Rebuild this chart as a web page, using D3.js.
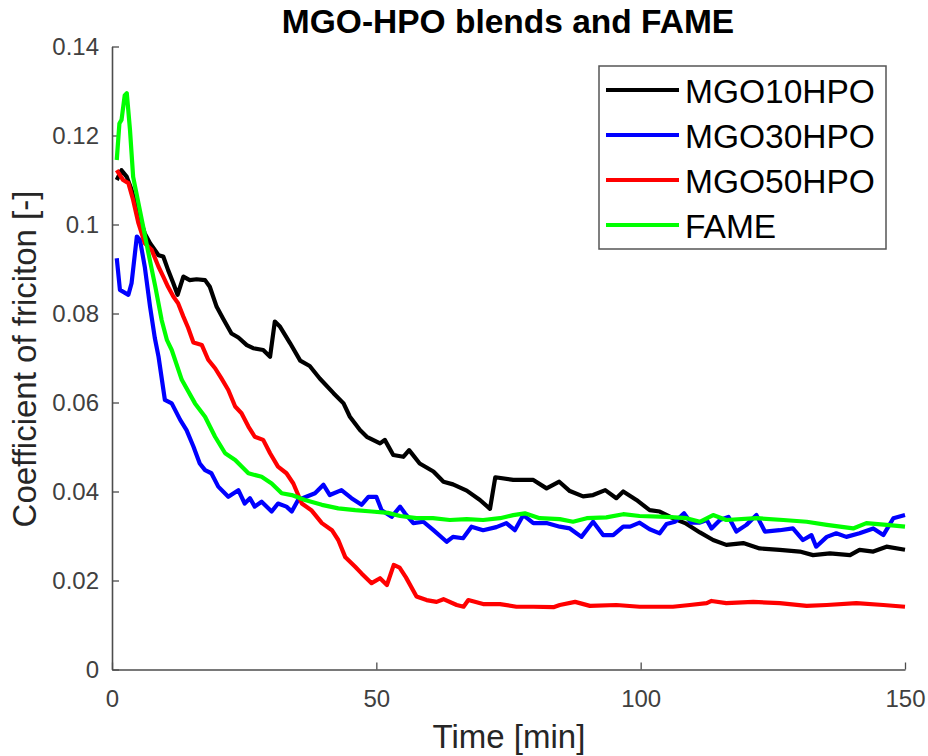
<!DOCTYPE html>
<html>
<head>
<meta charset="utf-8">
<script src="https://cdn.jsdelivr.net/npm/d3@7"></script>
<style>
  body { margin: 0; background: #fff; }
  text { font-family: "Liberation Sans", Arial, sans-serif; }
</style>
</head>
<body>
<div id="chart"></div>
<script>
// series: [time (min), coefficient of friction]
const mgo10 = [[0.9,0.110],[1.8,0.1122],[2.8,0.1107],[3.7,0.1078],[5.0,0.1025],[6.2,0.098],[7.2,0.0958],[8.8,0.0931],[9.7,0.0928],[10.6,0.0898],[11.6,0.0868],[12.4,0.0842],[13.5,0.0883],[14.7,0.0875],[16.0,0.0877],[17.6,0.0875],[18.5,0.086],[19.8,0.0815],[21.0,0.0789],[22.6,0.0755],[23.9,0.0746],[25.5,0.0729],[26.7,0.0722],[28.6,0.0718],[29.9,0.0703],[30.8,0.0782],[31.8,0.077],[33.7,0.0733],[35.6,0.0694],[37.4,0.0682],[39.3,0.0654],[41.9,0.0621],[43.8,0.0598],[45.0,0.0568],[46.9,0.0538],[48.2,0.0523],[50.7,0.0508],[51.6,0.0516],[53.2,0.0482],[55.1,0.0478],[56.2,0.0493],[58.2,0.0463],[60.8,0.0445],[62.7,0.0422],[64.5,0.0416],[67.1,0.0402],[69.6,0.0381],[71.5,0.0361],[72.5,0.0432],[75.9,0.0426],[79.7,0.0426],[82.2,0.0407],[84.6,0.0422],[86.6,0.0401],[89.1,0.0389],[91.0,0.0392],[93.3,0.0403],[95.4,0.0385],[96.7,0.04],[99.2,0.0381],[101.7,0.0358],[103.6,0.0355],[106.1,0.034],[108.4,0.0329],[111.2,0.0308],[113.7,0.0291],[116.2,0.028],[119.4,0.0284],[122.5,0.0272],[126.3,0.0269],[130.1,0.0265],[132.6,0.0257],[135.8,0.0261],[139.6,0.0257],[141.4,0.0269],[144.0,0.0265],[146.5,0.0276],[150,0.0269]];

const mgo30 = [[0.9,0.0924],[1.5,0.0853],[3.1,0.0842],[3.7,0.0868],[4.7,0.0973],[5.3,0.0965],[6.2,0.0905],[7.2,0.0815],[8.1,0.0745],[8.8,0.0703],[10.0,0.0606],[11.3,0.0598],[12.9,0.0561],[14.1,0.0538],[15.4,0.0501],[16.6,0.0463],[17.6,0.0448],[18.8,0.0441],[20.1,0.0411],[22.0,0.0388],[23.9,0.0403],[25.1,0.0373],[26.1,0.0385],[27.0,0.0366],[28.3,0.0377],[30.2,0.0355],[31.4,0.0373],[33.0,0.0366],[34.0,0.0355],[35.2,0.0381],[38.4,0.0396],[40.0,0.0415],[41.2,0.0392],[43.4,0.0403],[45.3,0.0385],[47.2,0.037],[48.5,0.0388],[50.0,0.0388],[51.0,0.0358],[52.9,0.0343],[54.5,0.0366],[55.4,0.0351],[57.0,0.0329],[58.9,0.0332],[60.8,0.0313],[63.3,0.0287],[64.5,0.0298],[66.4,0.0295],[68.0,0.0321],[70.2,0.0313],[72.7,0.032],[74.6,0.0329],[76.2,0.0313],[77.8,0.0347],[79.7,0.0329],[82.2,0.0329],[84.7,0.0321],[86.6,0.0317],[88.8,0.0298],[91.0,0.0332],[92.9,0.0302],[94.8,0.0302],[96.7,0.0321],[98.0,0.0321],[99.8,0.033],[101.7,0.0315],[103.6,0.0306],[104.9,0.0327],[106.5,0.0332],[108.2,0.0351],[109.5,0.033],[111.2,0.033],[112.5,0.0336],[113.4,0.0317],[115.0,0.0336],[116.6,0.0343],[118.1,0.031],[120.0,0.0325],[121.9,0.0347],[123.5,0.031],[126.3,0.0313],[128.8,0.0317],[130.7,0.0291],[132.3,0.0302],[133.2,0.0276],[135.2,0.0298],[137.0,0.0306],[138.9,0.0298],[141.4,0.0306],[144.0,0.0317],[145.9,0.0302],[147.8,0.034],[150,0.0347]];

const mgo50 = [[0.9,0.1122],[2.1,0.110],[3.1,0.1093],[4.0,0.1055],[5.0,0.1003],[6.2,0.0958],[7.5,0.0943],[8.8,0.0905],[9.7,0.0883],[10.6,0.086],[11.6,0.0838],[12.5,0.0823],[13.5,0.0793],[14.4,0.0768],[15.4,0.0735],[17.0,0.0729],[18.2,0.0696],[19.5,0.0677],[20.7,0.0654],[22.0,0.0628],[23.3,0.0591],[24.5,0.0576],[25.8,0.0546],[27.0,0.0523],[28.6,0.0516],[29.9,0.0486],[31.4,0.0456],[33.0,0.0441],[34.3,0.0418],[35.9,0.0373],[37.7,0.0358],[39.7,0.0329],[41.6,0.0313],[42.8,0.0291],[44.1,0.0253],[46.0,0.0231],[47.2,0.0216],[49.1,0.0194],[50.7,0.0205],[52.0,0.019],[53.3,0.0235],[54.4,0.0229],[55.6,0.0207],[57.6,0.0164],[59.5,0.0156],[61.4,0.0152],[62.7,0.0158],[65.2,0.0145],[66.5,0.0141],[67.4,0.0156],[70.2,0.0147],[73.4,0.0147],[76.5,0.0141],[79.7,0.0141],[83.5,0.014],[84.7,0.0145],[87.6,0.0152],[90.4,0.0143],[95.4,0.0145],[99.8,0.0141],[106.1,0.0141],[109.3,0.0145],[112.5,0.0149],[113.4,0.0154],[116.2,0.0149],[121.3,0.0152],[126.3,0.0149],[131.4,0.0143],[135.2,0.0145],[140.8,0.0149],[145.9,0.0145],[150,0.0141]];

const fame = [[0.9,0.1145],[1.4,0.1227],[1.8,0.1235],[2.4,0.129],[2.8,0.1295],[3.4,0.1213],[4.0,0.1107],[5.0,0.1048],[5.9,0.0995],[6.9,0.0935],[8.2,0.086],[9.4,0.0785],[10.4,0.074],[11.3,0.0718],[13.2,0.0651],[15.7,0.0598],[17.6,0.0568],[19.5,0.0523],[21.4,0.0486],[23.3,0.0471],[25.8,0.0441],[28.3,0.0433],[30.2,0.0418],[32.1,0.0396],[34.0,0.0392],[36.5,0.0381],[39.7,0.037],[42.8,0.0362],[46.0,0.0358],[49.1,0.0355],[52.2,0.0352],[54.5,0.0345],[57.6,0.034],[60.7,0.034],[63.9,0.0336],[67.1,0.0338],[70.2,0.0336],[73.4,0.034],[75.9,0.0347],[78.1,0.0351],[80.9,0.034],[84.7,0.0338],[87.2,0.0332],[89.8,0.034],[93.5,0.0342],[96.7,0.0349],[99.8,0.0345],[104.9,0.0343],[108.7,0.034],[111.2,0.0332],[113.7,0.0347],[116.2,0.0336],[121.9,0.034],[127.0,0.0336],[131.4,0.0332],[135.2,0.0325],[140.2,0.0317],[142.7,0.0329],[146.5,0.0325],[150,0.0321]];

const seriesNames = ["MGO10HPO", "MGO30HPO", "MGO50HPO", "FAME"];
const seriesColors = ["#000000", "#0000ff", "#ff0000", "#00ff00"];
const xTicks = [0, 50, 100, 150];
const yTicks = [0, 0.02, 0.04, 0.06, 0.08, 0.1, 0.12, 0.14];

const allSeries = [mgo10, mgo30, mgo50, fame];

const W = 928, H = 756;
let margin = {top: 46.5, right: 23, bottom: 86.5, left: 112},
    width = W - margin.left - margin.right,
    height = H - margin.top - margin.bottom;

let svg = d3.select("#chart")
    .append("svg")
    .attr("width", W)
    .attr("height", H);

let g = svg.append("g")
    .attr("transform", "translate(" + margin.left + "," + margin.top + ")");

let x = d3.scaleLinear().domain([0, 150]).range([0, width]);
let y = d3.scaleLinear().domain([0, 0.14]).range([height, 0]);

const axisColor = "#4d4d4d";

// x axis, ticks pointing inward
let xAxis = g.append("g")
    .attr("transform", "translate(0," + height + ")")
    .call(d3.axisBottom(x).tickValues(xTicks).tickSize(-7).tickPadding(16).tickSizeOuter(0));

// y axis
let yAxis = g.append("g")
    .call(d3.axisLeft(y).tickValues(yTicks).tickSize(-7).tickPadding(13).tickSizeOuter(0)
        .tickFormat(d => d === 0 ? "0" : String(+d.toFixed(2))));

[xAxis, yAxis].forEach(a => {
    a.select(".domain").attr("stroke", axisColor).attr("stroke-width", 1.6);
    a.selectAll(".tick line").attr("stroke", axisColor).attr("stroke-width", 1.3);
    a.selectAll(".tick text")
        .attr("fill", "#404040")
        .style("font-size", "24px")
        .style("font-family", "'Liberation Sans', Arial, sans-serif");
});
xAxis.selectAll(".tick text").attr("dy", "0.9em");

let line = d3.line()
    .x(d => x(d[0]))
    .y(d => y(d[1]));

g.selectAll("path.series")
    .data(allSeries)
    .join("path")
    .attr("class", "series")
    .attr("d", line)
    .attr("fill", "none")
    .attr("stroke", (d, i) => seriesColors[i])
    .attr("stroke-width", 4.2)
    .attr("stroke-linejoin", "round");

// title
svg.append("text")
    .attr("x", 508)
    .attr("y", 33)
    .attr("text-anchor", "middle")
    .style("font-size", "33.5px")
    .style("font-weight", "bold")
    .attr("fill", "#000")
    .text("MGO-HPO blends and FAME");

// axis labels
svg.append("text")
    .attr("x", 509)
    .attr("y", 748)
    .attr("text-anchor", "middle")
    .style("font-size", "33px")
    .attr("fill", "#262626")
    .text("Time [min]");

svg.append("text")
    .attr("transform", "translate(36,359)rotate(-90)")
    .attr("text-anchor", "middle")
    .style("font-size", "33px")
    .attr("fill", "#262626")
    .text("Coefficient of friciton [-]");

// legend
let legend = svg.append("g").attr("transform", "translate(599,66)");
legend.append("rect")
    .attr("width", 287)
    .attr("height", 183)
    .attr("fill", "#fff")
    .attr("stroke", "#555")
    .attr("stroke-width", 1.5);

let items = legend.selectAll("g.item")
    .data(seriesNames)
    .join("g")
    .attr("class", "item")
    .attr("transform", (d, i) => "translate(0," + (24 + i * 45) + ")");

items.append("line")
    .attr("x1", 7).attr("x2", 80)
    .attr("stroke", (d, i) => seriesColors[i])
    .attr("stroke-width", 4);

items.append("text")
    .attr("x", 86)
    .attr("y", 13)
    .style("font-size", "33.5px")
    .attr("fill", "#000")
    .text(d => d);
</script>
</body>
</html>
